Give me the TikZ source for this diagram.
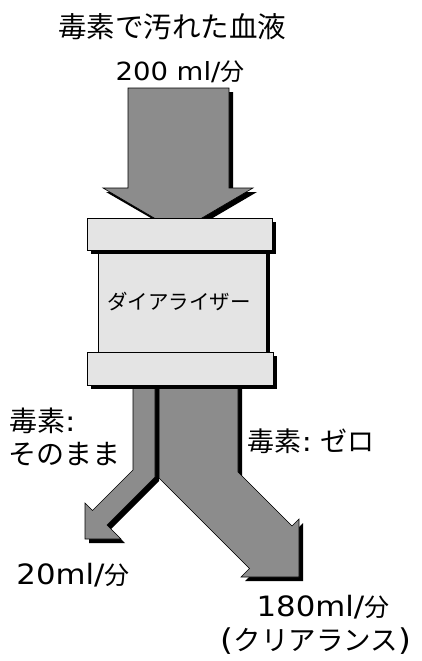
\documentclass[tikz,border=0pt]{standalone}
\usepackage{fontspec}
\setmainfont{Noto Sans CJK JP}
\newfontfamily\lat[FakeStretch=1.1]{DejaVu Sans}
\definecolor{arrowgray}{RGB}{140,140,140}
\definecolor{boxgray}{RGB}{228,228,228}
\newcommand{\jpsz}[1]{\fontsize{#1}{#1}\selectfont}
\begin{document}
\begin{tikzpicture}[x=1pt,y=-1pt,
  arrowfill/.style={fill=arrowgray, draw=black, line width=0.6pt, line join=miter},
  shadowfill/.style={fill=black},
  boxfill/.style={fill=boxgray, draw=black, line width=0.8pt},
  lbl/.style={inner sep=0pt, align=left}]
\useasboundingbox (0,0) rectangle (421,661);
% ---------- top arrow ----------
\fill[shadowfill] (132,92) -- (233,92) -- (233,192) -- (257,192) -- (182,236) -- (106,192) -- (132,192) -- cycle;
\draw[arrowfill] (128,88) -- (229,88) -- (229,188) -- (253,188) -- (178,232) -- (103,188) -- (128,188) -- cycle;
% ---------- right (clearance) arrow ----------
\fill[shadowfill] (163,374) -- (242,374) -- (242,476) -- (296,530) -- (303,523) -- (303,581) -- (245,581) -- (253.5,572.5) -- (163,482) -- cycle;
\draw[arrowfill] (159,370) -- (238,370) -- (238,472) -- (292,526) -- (299,519) -- (299,577) -- (241,577) -- (249.5,568.5) -- (159,478) -- cycle;
% ---------- left arrow ----------
\fill[shadowfill] (137,374) -- (159,374) -- (159,481) -- (111,529) -- (125,543) -- (89,543) -- (89,507) -- (96.5,514.5) -- (137,474) -- cycle;
\draw[arrowfill] (133,370) -- (155,370) -- (155,477) -- (107,525) -- (121,539) -- (85,539) -- (85,503) -- (92.5,510.5) -- (133,470) -- cycle;
% ---------- dialyzer ----------
\fill[shadowfill] (102,254) rectangle (270,356);
\draw[boxfill] (98,250) rectangle (266,352);
\fill[shadowfill] (91,222) rectangle (276,254);
\draw[boxfill] (87,218) rectangle (272,250);
\fill[shadowfill] (91,356) rectangle (277,389);
\draw[boxfill] (87,352) rectangle (273,385);
\node[lbl, font=\jpsz{20.5}] (dialyzer) at (179,302) {ダイアライザー};
% ---------- labels ----------
\node[lbl, font=\jpsz{28.5}] (title) at (172,27) {毒素で汚れた血液};
\node[lbl] (inflow) at (180,72) {{\jpsz{25}\lat 200 ml/}{\jpsz{24}分}};
\node[lbl, font=\jpsz{28}, anchor=west] (toxinA) at (9,421) {毒素{\lat:}};
\node[lbl, font=\jpsz{28}, anchor=west] (toxinB) at (8,454) {そのまま};
\node[lbl, font=\jpsz{27}] (toxinzero) at (311,441) {毒素{\lat:} ゼロ};
\node[lbl] (outleft) at (73,575) {{\jpsz{28}\lat 20ml/}{\jpsz{25}分}};
\node[lbl] (outright) at (323,607) {{\jpsz{28}\lat 180ml/}{\jpsz{25}分}};
\node[lbl, font=\jpsz{27.5}] (clearance) at (316,641) {{\lat\jpsz{30}(}クリアランス{\lat\jpsz{30})}};
\end{tikzpicture}
\end{document}
